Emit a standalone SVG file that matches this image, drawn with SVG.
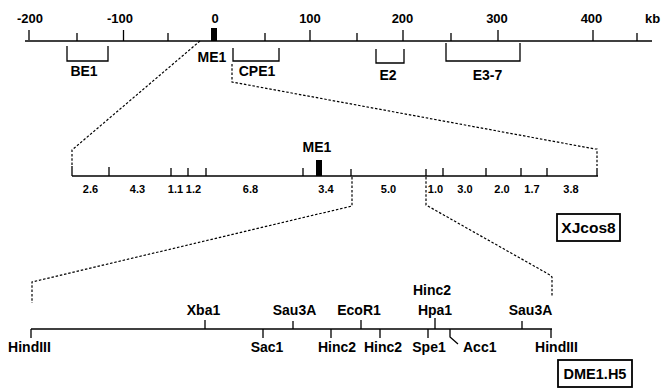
<svg xmlns="http://www.w3.org/2000/svg" width="661" height="390" viewBox="0 0 661 390">
<style>
text{font-family:"Liberation Sans",Arial,sans-serif;font-weight:bold;fill:#000}
.n{font-size:13px;text-anchor:middle}
.l{font-size:14px;text-anchor:middle}
.s{font-size:11px;text-anchor:middle}
.ln{stroke:#000;stroke-width:1.5;fill:none}
.tk{stroke:#000;stroke-width:1.3;fill:none}
.d{stroke:#000;stroke-width:1.2;fill:none;stroke-dasharray:2.5 1.8}
.box{stroke:#000;stroke-width:1.8;fill:#fff}
</style>
<rect width="661" height="390" fill="#fff"/>

<g id="connectors">
<path class="d" d="M200,41 L72,150 L72,166"/>
<path class="d" d="M232,64 L232,82 L595,149 L597,149 L597,166"/>
<path class="d" d="M352,177 L352,206 L32,282 L32,303"/>
<path class="d" d="M426,177 L426,205 L550,275 L552,277 L552,297"/>
</g>

<g id="genome-map">
<line class="ln" x1="25" y1="41" x2="652" y2="41"/>
<path class="tk" d="M29,30V40 M123.5,30V41 M310,30V41 M403,30V41 M498,30V41 M593,30V41 M77,33V41 M168,33V41 M265,33V41 M357,33V41 M451,33V41 M637,33V41"/>
<rect x="211" y="28" width="6" height="13" fill="#000"/>
<text class="n" x="30" y="23">-200</text>
<text class="n" x="120" y="23">-100</text>
<text class="n" x="215" y="23">0</text>
<text class="n" x="310" y="23">100</text>
<text class="n" x="402.5" y="23">200</text>
<text class="n" x="497" y="23">300</text>
<text class="n" x="591.5" y="23">400</text>
<text x="645" y="23" font-size="13">kb</text>
<text class="l" x="212" y="62">ME1</text>
</g>

<g id="BE1">
<path class="tk" d="M67,46V61H108V46"/>
<text class="l" x="84" y="76">BE1</text>
</g>
<g id="CPE1">
<path class="tk" d="M233,48V61H279V48"/>
<text class="l" x="257" y="76">CPE1</text>
</g>
<g id="E2">
<path class="tk" d="M376,49V63H404V49"/>
<text class="l" x="388" y="80">E2</text>
</g>
<g id="E3-7">
<path class="tk" d="M446,43V61H520V43"/>
<text class="l" x="487.5" y="80">E3-7</text>
</g>

<g id="XJcos8-map">
<line class="ln" x1="72" y1="176" x2="598" y2="176"/>
<path class="tk" d="M72,166V176 M109,167V176 M171,168V176 M188,168V176 M206,168V176 M303,168V176 M351,169V176 M426,169V176 M443,168V176 M486,168V176 M521,168V176 M547,168V176 M597,168V176"/>
<rect x="316" y="160" width="6" height="16" fill="#000"/>
<text class="l" x="317" y="152">ME1</text>
<text class="s" x="90.5" y="193">2.6</text>
<text class="s" x="137.5" y="193">4.3</text>
<text class="s" x="175.5" y="193">1.1</text>
<text class="s" x="193.5" y="193">1.2</text>
<text class="s" x="250.5" y="193">6.8</text>
<text class="s" x="326" y="193">3.4</text>
<text class="s" x="388.5" y="193">5.0</text>
<text class="s" x="435.5" y="193">1.0</text>
<text class="s" x="465" y="193">3.0</text>
<text class="s" x="502" y="193">2.0</text>
<text class="s" x="532" y="193">1.7</text>
<text class="s" x="571" y="193">3.8</text>
</g>
<g id="XJcos8">
<rect class="box" x="557" y="214" width="63" height="27"/>
<text x="588.5" y="233" font-size="15.5" text-anchor="middle">XJcos8</text>
</g>

<g id="DME1-map">
<line class="ln" x1="31" y1="329" x2="552" y2="329"/>
<path class="tk" d="M31,329V338 M205,320V329 M263,329V338 M293,321V329 M331,329V338 M361,320V329 M380,329V338 M428,329V338 M435,318V329 M450,329V337L458,344 M522,321V329 M551,329V338"/>
<text class="l" x="29.5" y="352">HindIII</text>
<text class="l" x="203.5" y="315">Xba1</text>
<text class="l" x="267" y="352">Sac1</text>
<text class="l" x="294.5" y="315">Sau3A</text>
<text class="l" x="337" y="352">Hinc2</text>
<text class="l" x="359" y="315">EcoR1</text>
<text class="l" x="383" y="352">Hinc2</text>
<text class="l" x="432" y="295">Hinc2</text>
<text class="l" x="435" y="315">Hpa1</text>
<text class="l" x="429" y="352">Spe1</text>
<text x="463" y="352" font-size="14">Acc1</text>
<text class="l" x="530.5" y="315">Sau3A</text>
<text class="l" x="556.5" y="352">HindIII</text>
</g>
<g id="DME1.H5">
<rect class="box" x="558" y="360" width="74" height="27"/>
<text x="595" y="379" font-size="14.5" text-anchor="middle">DME1.H5</text>
</g>
</svg>
